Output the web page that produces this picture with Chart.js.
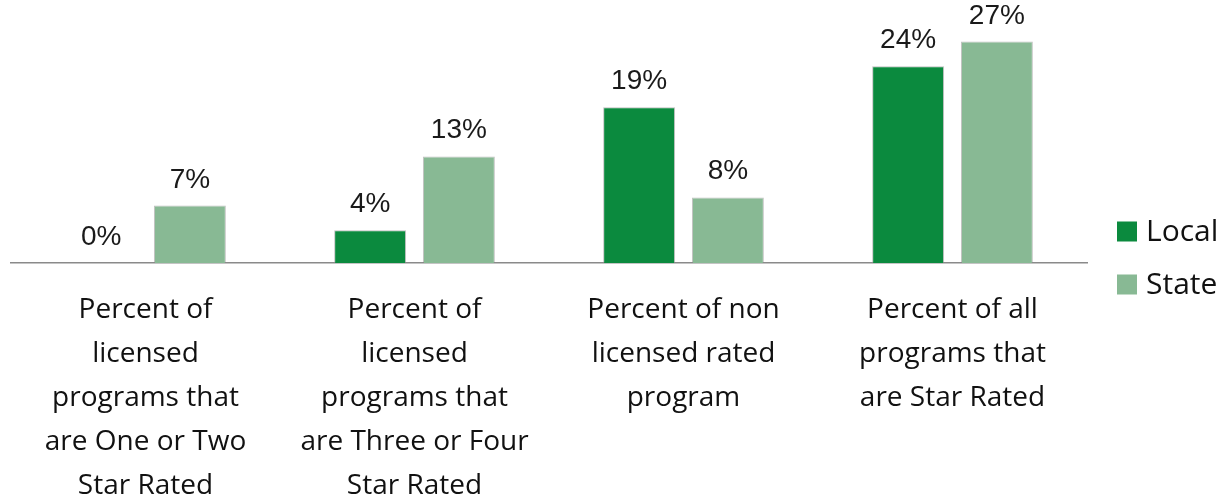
<!DOCTYPE html>
<html>
<head>
<meta charset="utf-8">
<script src="https://cdn.jsdelivr.net/npm/chart.js@4/dist/chart.umd.min.js"></script>
<style>
  html, body { margin: 0; padding: 0; background: #ffffff; }
  #wrap { width: 1229px; height: 500px; position: relative; }
</style>
</head>
<body>
<div id="wrap"><canvas id="chart"></canvas></div>
<script>
// Program rating shares, local vs. state
const categories = [
  ['Percent of', 'licensed', 'programs that', 'are One or Two', 'Star Rated'],
  ['Percent of', 'licensed', 'programs that', 'are Three or Four', 'Star Rated'],
  ['Percent of non', 'licensed rated', 'program'],
  ['Percent of all', 'programs that', 'are Star Rated']
];
const localValues = [0, 4, 19, 24];
const stateValues = [7, 13, 8, 27];
const seriesNames = ['Local', 'State'];
const seriesColors = ['#0b8a3e', '#88b994'];

const labelFont = '"Open Sans", "DejaVu Sans", sans-serif';
const valueFont = '"Liberation Sans", Arial, sans-serif';

// Percentage labels above each bar
const valueLabels = {
  id: 'valueLabels',
  afterDatasetsDraw(chart) {
    const ctx = chart.ctx;
    ctx.save();
    ctx.font = '28px ' + valueFont;
    ctx.fillStyle = '#1a1a1a';
    ctx.textAlign = 'center';
    ctx.textBaseline = 'alphabetic';
    chart.data.datasets.forEach((ds, i) => {
      chart.getDatasetMeta(i).data.forEach((bar, j) => {
        ctx.fillText(ds.data[j] + '%', bar.x, bar.y - 18);
      });
    });
    ctx.restore();
  }
};

// Legend on the right, stacked vertically near the baseline
const sideLegend = {
  id: 'sideLegend',
  afterDraw(chart) {
    const ctx = chart.ctx;
    ctx.save();
    ctx.font = '30px ' + labelFont;
    ctx.textBaseline = 'middle';
    ctx.textAlign = 'left';
    chart.data.datasets.forEach((ds, i) => {
      const cy = 231.5 + i * 53;
      ctx.fillStyle = ds.backgroundColor;
      ctx.fillRect(1117, cy - 10, 20, 20);
      ctx.fillStyle = '#111111';
      ctx.fillText(ds.label, 1146, cy + 1);
    });
    ctx.restore();
  }
};

new Chart(document.getElementById('chart'), {
  type: 'bar',
  data: {
    labels: categories,
    datasets: [
      { label: seriesNames[0], data: localValues, backgroundColor: seriesColors[0] },
      { label: seriesNames[1], data: stateValues, backgroundColor: seriesColors[1] }
    ]
  },
  options: {
    responsive: true,
    maintainAspectRatio: false,
    animation: false,
    layout: { padding: { left: 11, right: 142, top: 17, bottom: 0 } },
    datasets: {
      bar: {
        categoryPercentage: 0.66,
        barPercentage: 0.81,
        borderWidth: 1,
        borderColor: 'rgba(140,140,140,0.55)',
        borderSkipped: 'bottom'
      }
    },
    plugins: {
      legend: { display: false },
      tooltip: { enabled: false }
    },
    scales: {
      x: {
        grid: { display: false, drawTicks: false },
        border: { display: true, color: '#8a8a8a', width: 1.5 },
        ticks: {
          color: '#111111',
          padding: 25,
          maxRotation: 0,
          autoSkip: false,
          font: { family: labelFont, size: 28, lineHeight: 44 / 28 }
        },
        afterFit(scale) { scale.height = 237; }
      },
      y: {
        display: false,
        min: 0,
        max: 30
      }
    }
  },
  plugins: [valueLabels, sideLegend]
});
</script>
</body>
</html>
